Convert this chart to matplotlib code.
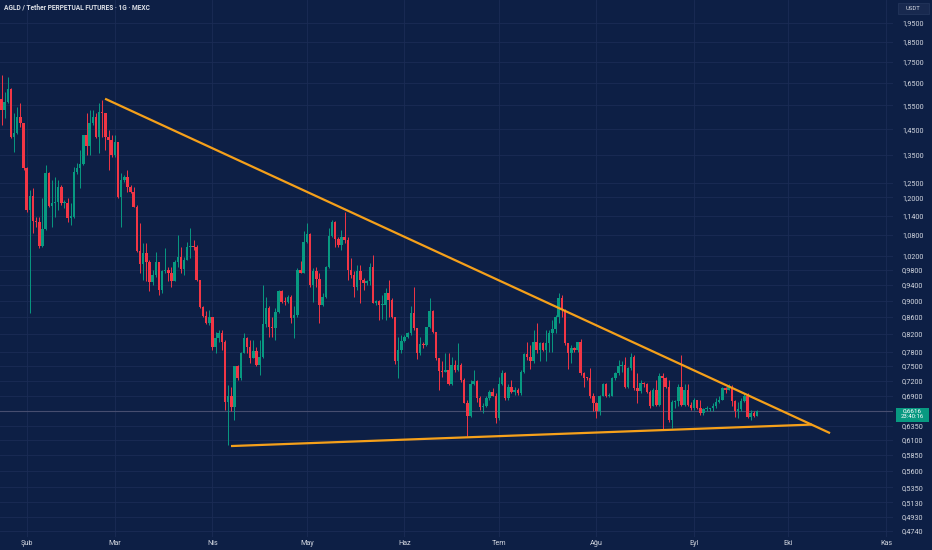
import numpy as np
import matplotlib
matplotlib.use("Agg")
import matplotlib.pyplot as plt
from matplotlib.patches import Rectangle
from matplotlib.ticker import NullLocator

plt.rcParams['font.family'] = ['Roboto', 'DejaVu Sans']

# daily candles, first one on 2025-01-24
first_date = '2025-01-24'
first_open = 1.577
closes = [1.530, 1.566, 1.621, 1.421, 1.436, 1.502, 1.474, 1.301, 1.158, 1.204,
          1.122, 1.119, 1.047, 1.098, 1.283, 1.171, 1.182, 1.185, 1.236, 1.180,
          1.182, 1.134, 1.137, 1.286, 1.303, 1.316, 1.427, 1.385, 1.474, 1.502,
          1.421, 1.523, 1.516, 1.421, 1.408, 1.350, 1.401, 1.202, 1.259, 1.271,
          1.236, 1.219, 1.169, 1.034, 0.997, 1.027, 1.003, 0.947, 0.967, 1.001,
          0.927, 0.976, 0.980, 0.973, 0.951, 1.003, 1.017, 0.983, 1.008, 1.045,
          1.047, 1.045, 0.953, 0.884, 0.861, 0.845, 0.859, 0.791, 0.810, 0.821,
          0.802, 0.679, 0.690, 0.669, 0.749, 0.725, 0.778, 0.810, 0.791, 0.766,
          0.782, 0.753, 0.770, 0.843, 0.881, 0.837, 0.833, 0.872, 0.924, 0.897,
          0.896, 0.909, 0.857, 0.865, 0.980, 0.973, 1.060, 1.082, 0.940, 0.978,
          0.955, 0.888, 0.908, 0.988, 1.076, 1.119, 1.067, 1.050, 1.075, 1.065,
          0.979, 0.967, 0.935, 0.976, 0.953, 0.944, 0.949, 0.989, 0.895, 0.899,
          0.888, 0.888, 0.919, 0.902, 0.859, 0.760, 0.784, 0.804, 0.812, 0.821,
          0.869, 0.833, 0.777, 0.797, 0.795, 0.835, 0.875, 0.825, 0.766, 0.740,
          0.738, 0.742, 0.714, 0.753, 0.742, 0.753, 0.721, 0.677, 0.652, 0.714,
          0.719, 0.685, 0.669, 0.670, 0.685, 0.698, 0.690, 0.648, 0.714, 0.735,
          0.685, 0.708, 0.698, 0.702, 0.695, 0.738, 0.775, 0.770, 0.760, 0.802,
          0.784, 0.800, 0.784, 0.800, 0.821, 0.831, 0.859, 0.906, 0.877, 0.799,
          0.777, 0.788, 0.784, 0.802, 0.735, 0.726, 0.725, 0.689, 0.676, 0.662,
          0.690, 0.714, 0.689, 0.690, 0.725, 0.735, 0.749, 0.753, 0.708, 0.746,
          0.770, 0.705, 0.700, 0.716, 0.713, 0.697, 0.670, 0.702, 0.673, 0.730,
          0.725, 0.708, 0.645, 0.679, 0.681, 0.708, 0.673, 0.702, 0.673, 0.667,
          0.683, 0.667, 0.658, 0.665, 0.666, 0.667, 0.670, 0.679, 0.683, 0.705,
          0.702, 0.708, 0.681, 0.661, 0.665, 0.681, 0.690, 0.650, 0.657, 0.652, 0.6616]
highs = [1.687, 1.610, 1.679, 1.626, 1.516, 1.544, 1.559, 1.474, 1.307, 1.225,
         1.231, 1.137, 1.137, 1.197, 1.313, 1.289, 1.259, 1.271, 1.259, 1.242,
         1.191, 1.197, 1.180, 1.307, 1.319, 1.369, 1.427, 1.516, 1.530, 1.530,
         1.516, 1.559, 1.574, 1.516, 1.447, 1.427, 1.427, 1.401, 1.283, 1.277,
         1.295, 1.242, 1.236, 1.174, 1.116, 1.055, 1.055, 1.008, 0.980, 1.031,
         1.003, 0.980, 1.041, 0.989, 0.989, 1.008, 1.080, 1.045, 1.017, 1.060,
         1.101, 1.065, 1.050, 0.953, 0.886, 0.873, 0.877, 0.853, 0.825, 0.829,
         0.829, 0.806, 0.712, 0.708, 0.749, 0.753, 0.780, 0.821, 0.813, 0.806,
         0.806, 0.791, 0.806, 0.940, 0.910, 0.886, 0.859, 0.881, 0.928, 0.928,
         0.910, 0.915, 0.915, 0.886, 0.985, 1.006, 1.091, 1.116, 1.086, 0.985,
         0.989, 0.971, 0.918, 0.991, 1.101, 1.125, 1.122, 1.075, 1.096, 1.151,
         1.075, 1.013, 0.976, 0.994, 0.994, 0.958, 0.953, 0.999, 1.022, 0.902,
         0.902, 0.915, 0.932, 0.953, 0.906, 0.859, 0.813, 0.817, 0.817, 0.825,
         0.886, 0.935, 0.833, 0.813, 0.802, 0.837, 0.906, 0.877, 0.825, 0.766,
         0.760, 0.777, 0.777, 0.770, 0.763, 0.799, 0.757, 0.725, 0.682, 0.721,
         0.742, 0.721, 0.689, 0.676, 0.689, 0.702, 0.705, 0.695, 0.728, 0.742,
         0.738, 0.714, 0.721, 0.708, 0.705, 0.742, 0.778, 0.802, 0.795, 0.829,
         0.846, 0.802, 0.802, 0.829, 0.829, 0.853, 0.865, 0.920, 0.915, 0.879,
         0.799, 0.795, 0.791, 0.802, 0.808, 0.738, 0.728, 0.746, 0.695, 0.679,
         0.692, 0.716, 0.716, 0.695, 0.728, 0.738, 0.763, 0.760, 0.768, 0.747,
         0.778, 0.773, 0.735, 0.721, 0.718, 0.716, 0.702, 0.705, 0.721, 0.735,
         0.735, 0.727, 0.721, 0.682, 0.682, 0.714, 0.773, 0.714, 0.714, 0.679,
         0.685, 0.683, 0.682, 0.667, 0.670, 0.668, 0.676, 0.685, 0.689, 0.708,
         0.708, 0.714, 0.712, 0.683, 0.679, 0.685, 0.695, 0.695, 0.664, 0.662, 0.664]
lows = [1.467, 1.495, 1.559, 1.415, 1.362, 1.433, 1.460, 1.295, 1.153, 0.869,
        1.086, 1.106, 1.041, 1.045, 1.096, 1.167, 1.106, 1.137, 1.158, 1.174,
        1.164, 1.119, 1.111, 1.132, 1.281, 1.231, 1.313, 1.350, 1.350, 1.467,
        1.415, 1.356, 1.421, 1.369, 1.295, 1.343, 1.343, 1.197, 1.106, 1.253,
        1.219, 1.214, 1.167, 1.031, 0.971, 0.953, 0.949, 0.923, 0.940, 0.962,
        0.915, 0.919, 0.971, 0.949, 0.935, 0.949, 0.989, 0.971, 0.967, 1.008,
        1.013, 1.036, 0.949, 0.881, 0.859, 0.843, 0.841, 0.784, 0.777, 0.802,
        0.784, 0.664, 0.602, 0.661, 0.645, 0.721, 0.721, 0.777, 0.777, 0.756,
        0.773, 0.749, 0.731, 0.766, 0.837, 0.813, 0.813, 0.806, 0.869, 0.893,
        0.888, 0.893, 0.845, 0.810, 0.859, 0.971, 0.971, 1.055, 0.935, 0.897,
        0.935, 0.845, 0.886, 0.906, 0.985, 1.075, 1.045, 1.045, 1.036, 1.055,
        0.953, 0.958, 0.910, 0.927, 0.893, 0.927, 0.940, 0.940, 0.893, 0.888,
        0.853, 0.855, 0.853, 0.859, 0.857, 0.754, 0.725, 0.777, 0.802, 0.810,
        0.817, 0.829, 0.764, 0.773, 0.788, 0.793, 0.833, 0.821, 0.763, 0.702,
        0.728, 0.738, 0.712, 0.712, 0.738, 0.740, 0.718, 0.676, 0.617, 0.651,
        0.712, 0.679, 0.664, 0.658, 0.669, 0.682, 0.689, 0.640, 0.645, 0.712,
        0.682, 0.682, 0.695, 0.692, 0.692, 0.692, 0.735, 0.763, 0.743, 0.756,
        0.777, 0.760, 0.782, 0.760, 0.780, 0.780, 0.821, 0.845, 0.859, 0.795,
        0.743, 0.756, 0.780, 0.780, 0.731, 0.708, 0.721, 0.685, 0.661, 0.648,
        0.655, 0.689, 0.688, 0.688, 0.689, 0.721, 0.731, 0.738, 0.705, 0.705,
        0.742, 0.702, 0.676, 0.695, 0.708, 0.695, 0.667, 0.670, 0.670, 0.670,
        0.628, 0.705, 0.642, 0.631, 0.667, 0.670, 0.670, 0.670, 0.670, 0.664,
        0.664, 0.665, 0.655, 0.655, 0.661, 0.662, 0.661, 0.667, 0.676, 0.682,
        0.695, 0.701, 0.670, 0.651, 0.648, 0.661, 0.679, 0.648, 0.645, 0.651, 0.652]

# triangle drawn on the chart (day offset from 1 Feb, price)
upper_days = [24.9, 255.2]
upper_prices = [1.579, 0.622]
lower_days = [64.9, 249.4]
lower_prices = [0.600, 0.637]

last_price = 0.6616
countdown = '23:40:16'

month_labels = ['Şub', 'Mar', 'Nis', 'May', 'Haz', 'Tem', 'Ağu', 'Eyl', 'Eki', 'Kas']
month_dates = ['2025-02-01', '2025-03-01', '2025-04-01', '2025-05-01', '2025-06-01',
               '2025-07-01', '2025-08-01', '2025-09-01', '2025-10-01', '2025-11-01']
price_ticks = [1.95, 1.85, 1.75, 1.65, 1.55, 1.45, 1.35, 1.25, 1.20, 1.14, 1.08, 1.02,
               0.98, 0.94, 0.90, 0.86, 0.82, 0.78, 0.75, 0.72, 0.69, 0.635, 0.61,
               0.585, 0.56, 0.535, 0.513, 0.493, 0.474]

bg = '#0d1f45'
grid_c = '#1b2c55'
up_c = '#089981'
down_c = '#f23645'
txt_c = '#d3d7e0'
line_c = '#f5a01a'

base = np.datetime64('2025-02-01')
start = (np.datetime64(first_date) - base).astype(int)
x = start + np.arange(len(closes))
c = np.array(closes)
o = np.array([first_open] + closes[:-1])
h = np.maximum(np.array(highs), np.maximum(o, c))
l = np.minimum(np.array(lows), np.minimum(o, c))
month_x = [(np.datetime64(d) - base).astype(int) for d in month_dates]

W, H = 932, 550
fig = plt.figure(figsize=(W / 100, H / 100), dpi=100, facecolor=bg)
ax = fig.add_axes([0, 13 / H, 893 / W, 537 / H])
ax.set_facecolor(bg)
ax.set_yscale('log')
ax.set_ylim(0.4657, 2.079)
ax.set_xlim(-8.48, 275.2)
for s in ax.spines.values():
    s.set_visible(False)

ax.set_yticks(price_ticks)
ax.set_yticklabels([f'{t:.4f}'.replace('.', ',') for t in price_ticks])
ax.yaxis.set_minor_locator(NullLocator())
ax.yaxis.tick_right()
ax.set_xticks(month_x)
ax.set_xticklabels(month_labels)
ax.tick_params(axis='y', length=0, pad=6.5, labelsize=5.2, labelcolor=txt_c)
ax.tick_params(axis='x', length=0, pad=2, labelsize=5.2, labelcolor=txt_c)
ax.grid(True, color=grid_c, lw=0.6)
ax.set_axisbelow(True)

cols = np.where(c >= o, up_c, down_c)
ax.vlines(x, l, h, colors=cols, lw=0.7, zorder=2)
bottom = np.minimum(o, c)
height = np.maximum(np.abs(c - o), c * 0.003)
ax.bar(x, height, bottom=bottom, width=0.78, color=cols, linewidth=0, zorder=3)

ax.axhline(last_price, color='#474e70', lw=0.8, zorder=1)

ax.plot(upper_days, upper_prices, color=line_c, lw=1.6, solid_capstyle='butt', zorder=4)
ax.plot(lower_days, lower_prices, color=line_c, lw=1.6, solid_capstyle='butt', zorder=4)

# title
fig.text(4 / W, 1 - 7 / H, 'AGLD / Tether PERPETUAL FUTURES · 1G · MEXC',
         fontsize=4.8, fontweight='bold', color='#dcdfe6', va='center', ha='left')

# currency box
fig.add_artist(Rectangle((898 / W, 1 - 14 / H), 31 / W, 11 / H, transform=fig.transFigure,
                         facecolor='#18294f', edgecolor='#26375e', lw=0.5))
fig.text(913.5 / W, 1 - 8.5 / H, 'USDT', fontsize=4.3, color=txt_c, ha='center', va='center')

# last price label
fig.add_artist(Rectangle((896 / W, 1 - 421.5 / H), 33 / W, 14 / H, transform=fig.transFigure,
                         facecolor=up_c, edgecolor='none'))
fig.text(912.5 / W, 1 - 411 / H, f'{last_price:.4f}'.replace('.', ','), fontsize=4.6,
         color='white', ha='center', va='center')
fig.text(912.5 / W, 1 - 417 / H, countdown, fontsize=4.3, color='white', ha='center', va='center')

fig.savefig('out.png', dpi=100, facecolor=bg)
